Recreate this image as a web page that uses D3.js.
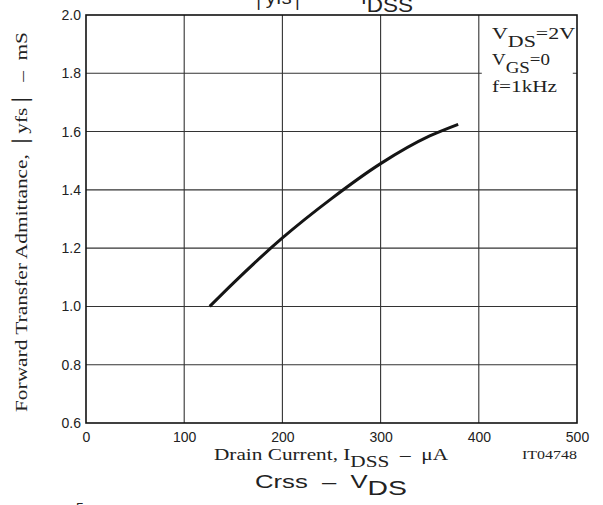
<!DOCTYPE html>
<html>
<head>
<meta charset="utf-8">
<script src="https://cdn.jsdelivr.net/npm/d3@7"></script>
<style>
  body { margin: 0; background: #fff; }
  svg { display: block; }
  text { white-space: pre; }
  .tick text { font-family: "Liberation Sans", Arial, sans-serif; font-size: 14px; fill: #222; }
  .serif { font-family: "Liberation Serif", "Times New Roman", serif; fill: #222; }
  .sans { font-family: "Liberation Sans", Arial, sans-serif; fill: #222; }
</style>
</head>
<body>
<div id="chart"></div>
<script>
// |yfs| - IDSS curve
var idss = [126, 150, 200, 250, 300, 350, 379];
var yfs = [1.0, 1.08, 1.235, 1.37, 1.49, 1.585, 1.625];

var xTicks = [0, 100, 200, 300, 400, 500];
var yTicks = [0.6, 0.8, 1.0, 1.2, 1.4, 1.6, 1.8, 2.0];
var legendLines = [["V", "DS", "=2V"], ["V", "GS", "=0"], ["f=1kHz", "", ""]];

var W = 603, H = 505;
var margin = {top: 15, right: 26, bottom: 82, left: 86};
var width = W - margin.left - margin.right,
    height = H - margin.top - margin.bottom;

var svg = d3.select("#chart").append("svg")
    .attr("width", W)
    .attr("height", H);

var g = svg.append("g")
    .attr("transform", "translate(" + margin.left + "," + margin.top + ")");

var x = d3.scaleLinear().domain([0, 500]).range([0, width]);
var y = d3.scaleLinear().domain([0.6, 2.0]).range([height, 0]);

// grid
g.append("g").selectAll("line")
    .data(xTicks.slice(1, -1))
    .enter().append("line")
      .attr("x1", function(d) { return x(d); })
      .attr("x2", function(d) { return x(d); })
      .attr("y1", 0).attr("y2", height)
      .attr("stroke", "#333").attr("stroke-width", 1.1);

g.append("g").selectAll("line")
    .data(yTicks.slice(1, -1))
    .enter().append("line")
      .attr("x1", 0).attr("x2", width)
      .attr("y1", function(d) { return y(d); })
      .attr("y2", function(d) { return y(d); })
      .attr("stroke", "#333").attr("stroke-width", 1.1);

// white patch behind the conditions text
g.append("rect")
    .attr("x", x(400) + 3).attr("y", 5)
    .attr("width", 91).attr("height", 80)
    .attr("fill", "#fff");

// frame
g.append("rect")
    .attr("width", width).attr("height", height)
    .attr("fill", "none")
    .attr("stroke", "#111").attr("stroke-width", 1.6);

// axes (labels only)
g.append("g")
    .attr("transform", "translate(0," + height + ")")
    .call(d3.axisBottom(x).tickValues(xTicks).tickSize(0).tickPadding(9).tickFormat(d3.format("d")))
    .call(function(a) { a.select(".domain").remove(); });

g.append("g")
    .call(d3.axisLeft(y).tickValues(yTicks).tickSize(0).tickPadding(5).tickFormat(d3.format(".1f")))
    .call(function(a) { a.select(".domain").remove(); });

// curve
var line = d3.line()
    .x(function(d, i) { return x(idss[i]); })
    .y(function(d) { return y(d); })
    .curve(d3.curveMonotoneX);

g.append("path")
    .datum(yfs)
    .attr("d", line)
    .attr("fill", "none")
    .attr("stroke", "#151515")
    .attr("stroke-width", 3);

// text with subscript, stretched to the measured width
function label(parent, cls, px, py, parts, size, subSize, subDy, len, anchor) {
    var t = parent.append("text")
        .attr("class", cls)
        .attr("x", px).attr("y", py)
        .attr("font-size", size)
        .attr("text-anchor", anchor || "start");
    parts.forEach(function(p) {
        if (!p.t) return;
        var s = t.append("tspan").text(p.t);
        if (p.sub) s.attr("font-size", subSize).attr("dy", subDy);
        if (p.up) s.attr("dy", -subDy);
        if (p.dy) s.attr("dy", p.dy);
    });
    if (len) t.attr("textLength", len).attr("lengthAdjust", "spacingAndGlyphs");
    return t;
}

// conditions
var legendLen = [83, 58, 65];
legendLines.forEach(function(l, i) {
    label(svg, "serif", 492, 39 + i * 26.3,
        [{t: l[0]}, {t: l[1], sub: true}, {t: l[2], up: l[1] !== ""}],
        17, 17, 7.5, legendLen[i]);
});

// x axis title
label(svg, "serif", 214, 460,
    [{t: "Drain Current, I"}, {t: "DSS", sub: true}, {t: "  \u2013  \u03bcA", up: true}],
    16, 16, 7, 234);

label(svg, "serif", 577, 459, [{t: "IT04748"}], 13, 13, 0, 55, "end");

// y axis title
svg.append("text")
    .attr("class", "serif")
    .attr("transform", "translate(27,222) rotate(-90)")
    .attr("text-anchor", "middle")
    .attr("font-size", 17)
    .attr("textLength", 380)
    .attr("lengthAdjust", "spacingAndGlyphs")
    .text("Forward Transfer Admittance, \u2502yfs\u2502  \u2013  mS");

// chart titles (top one is cut by the page edge)
label(svg, "sans", 253, 4,
    [{t: "\u2502yfs\u2502    "}, {t: "\u2013", dy: -5}, {t: "    I", dy: 5}, {t: "DSS", sub: true}],
    19, 21, 8, 160);

label(svg, "sans", 255, 488,
    [{t: "Crss  \u2013  V"}, {t: "DS", sub: true}],
    19, 21, 7, 152);

svg.append("text")
    .attr("class", "sans")
    .attr("x", 76).attr("y", 513)
    .attr("font-size", 14)
    .text("5");
</script>
</body>
</html>
